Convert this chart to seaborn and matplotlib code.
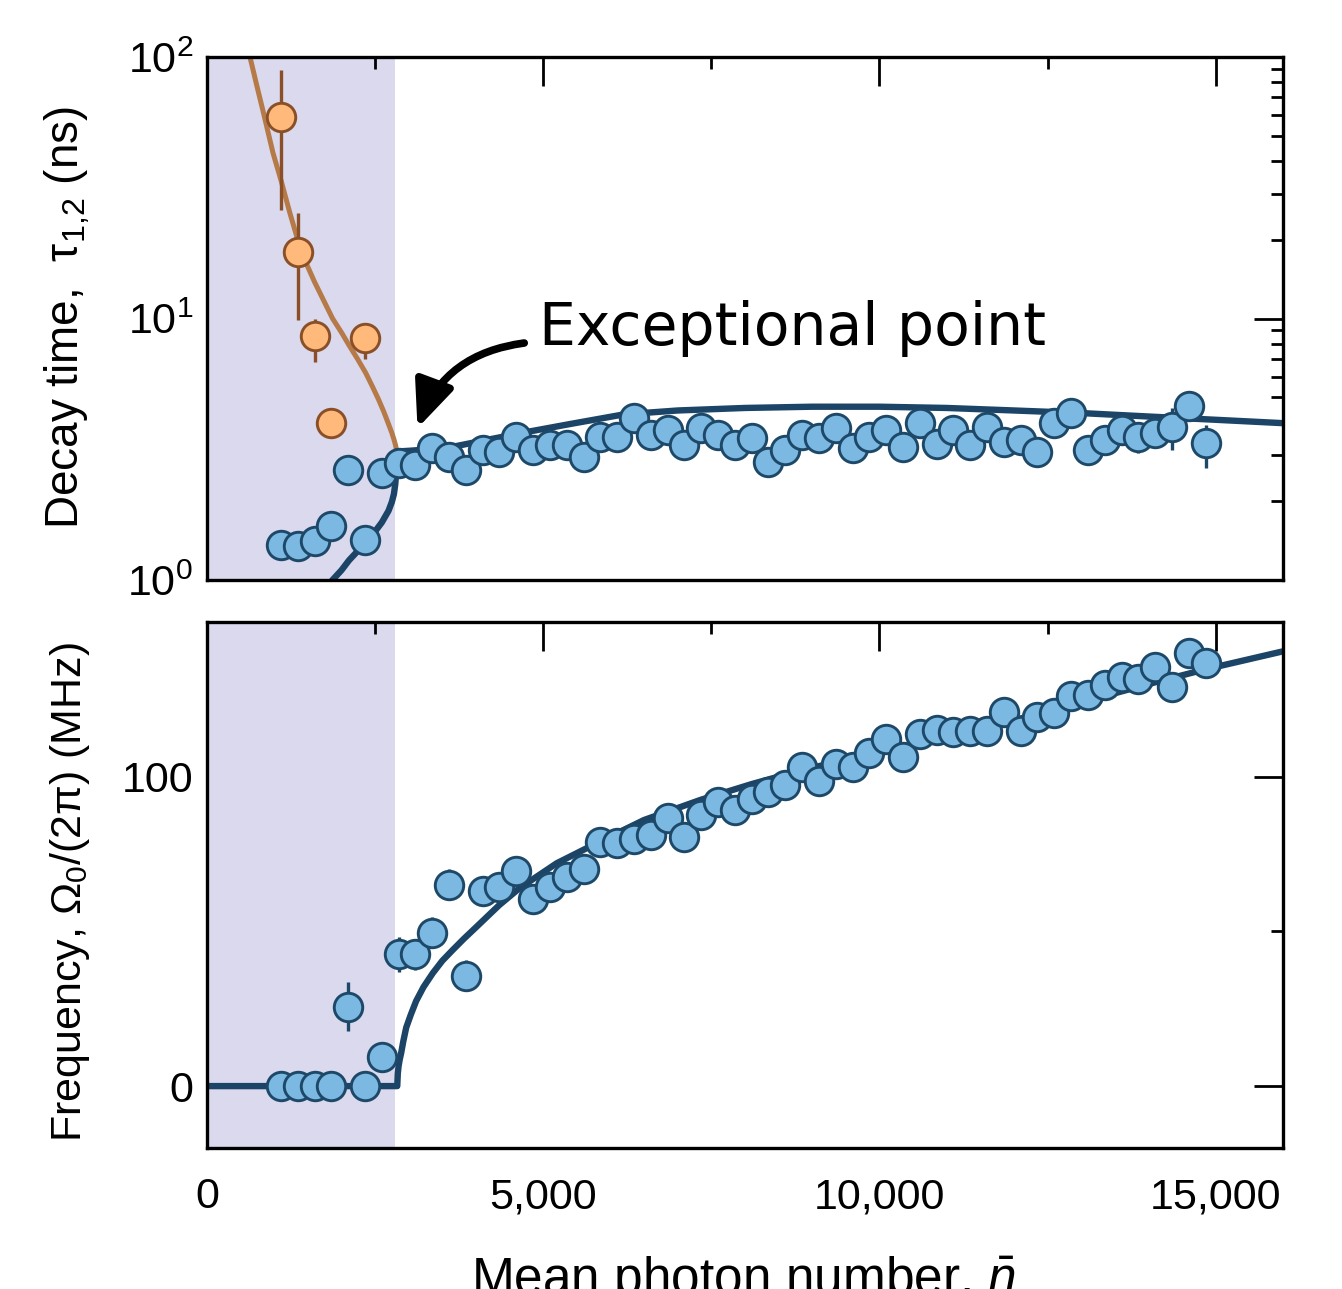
import matplotlib
matplotlib.use("Agg")
import matplotlib.pyplot as plt
import seaborn as sns
from matplotlib.ticker import FixedLocator, FixedFormatter, NullFormatter, LogLocator

# ---------------- data ----------------
photon_n = [1100, 1350, 1600, 1850, 2100, 2350, 2600, 2850, 3100, 3350, 3600, 3850, 4100, 4350,
            4600, 4850, 5100, 5350, 5600, 5850, 6100, 6350, 6600, 6850, 7100, 7350, 7600, 7850,
            8100, 8350, 8600, 8850, 9100, 9350, 9600, 9850, 10100, 10350, 10600, 10850, 11100,
            11350, 11600, 11850, 12100, 12350, 12600, 12850, 13100, 13350, 13600, 13850, 14100,
            14350, 14600, 14850]

tau_blue = [1.36, 1.35, 1.41, 1.61, 2.63, 1.42, 2.57, 2.80, 2.75, 3.20, 2.95, 2.63, 3.14, 3.09,
            3.52, 3.14, 3.28, 3.28, 2.95, 3.52, 3.52, 4.16, 3.58, 3.75, 3.28, 3.81, 3.58, 3.28,
            3.49, 2.83, 3.14, 3.58, 3.49, 3.81, 3.20, 3.52, 3.75, 3.23, 3.98, 3.31, 3.75, 3.28,
            3.85, 3.37, 3.43, 3.09, 3.98, 4.35, 3.14, 3.43, 3.75, 3.52, 3.65, 3.85, 4.63, 3.34]
tau_blue_err_lo = [0.1] * 51 + [0.45, 0.45, 0.71, 0.25, 0.66]
tau_blue_err_hi = [0.1] * 51 + [0.45, 0.45, 0.70, 0.25, 0.58]

orange_n = [1100, 1350, 1600, 1850, 2350]
tau_orange = [59.2, 17.9, 8.6, 3.98, 8.45]
tau_orange_err_lo = [33.3, 8.0, 1.8, 0.0, 1.45]
tau_orange_err_hi = [29.8, 7.5, 1.4, 0.0, 1.0]

freq = [0, 0, 0, 0, 25.7, 0, 9.4, 42.6, 42.6, 49.6, 65.0, 35.6, 63.1, 64.4,
        69.5, 60.6, 64.4, 67.6, 70.0, 79.0, 78.4, 80.0, 81.1, 86.8, 80.4, 87.6, 91.7, 89.2,
        92.8, 94.9, 97.3, 103.2, 98.7, 104.1, 103.2, 107.8, 112.1, 106.5, 113.8, 115.1, 114.3,
        114.6, 114.8, 121.0, 114.6, 119.4, 120.7, 126.1, 126.4, 129.7, 132.1, 131.5, 135.6,
        129.1, 139.9, 136.7]
freq_err = [0, 0, 0, 0, 8.0, 0, 3.0, 5.6, 5.0, 5.0, 5.0, 5.0, 4.5, 4.5,
            4.5, 4.5, 4.5, 4.5, 4.5, 4.5, 4.5, 4.5, 4.5, 4.5, 4.5, 4.5, 4.5, 4.5,
            4.5, 4.5, 4.5, 4.5, 4.5, 4.5, 4.5, 4.5, 4.5, 4.5, 4.5, 4.5, 4.5,
            4.5, 4.5, 4.5, 4.5, 4.5, 4.5, 4.5, 4.5, 4.5, 4.5, 4.5, 4.5,
            4.5, 4.5, 4.5]

# fit curves
fit_orange_n = [640, 740, 835, 982, 1105, 1230, 1350, 1470, 1600, 1730, 1868, 2000, 2113,
                2240, 2360, 2460, 2552, 2630, 2700, 2750, 2785, 2808, 2820]
fit_orange_tau = [100, 78, 62, 43, 33.5, 25.5, 20.0, 16.4, 13.8, 11.8, 10.0, 8.85, 7.9,
                  7.0, 6.2, 5.5, 4.9, 4.4, 3.95, 3.65, 3.42, 3.25, 3.1]

fit_blue_n = [1800, 1866, 2000, 2113, 2240, 2360, 2480, 2600, 2700, 2750, 2780, 2800, 2810,
              2816, 2820, 3000, 3300, 3700, 4200, 4800, 5400, 6200, 7000, 8000, 9000, 10000,
              11000, 12000, 13000, 14000, 15000, 16000]
fit_blue_tau = [0.95, 1.0, 1.09, 1.19, 1.29, 1.39, 1.51, 1.66, 1.84, 1.99, 2.13, 2.32, 2.50,
                2.72, 3.10, 3.12, 3.16, 3.25, 3.45, 3.70, 3.95, 4.30, 4.45, 4.55, 4.60, 4.60,
                4.55, 4.45, 4.35, 4.22, 4.10, 3.98]

fit_freq_n = [0, 2830, 2838, 2850, 2866, 2889, 2920, 2963, 3030, 3111, 3220, 3358, 3500, 3655,
              3820, 4000, 4347, 4650, 5200, 5840, 6500, 7340, 8100, 8830, 9600, 10330, 11100,
              11830, 12600, 13320, 14050, 14810, 16000]
fit_freq = [0, 0, 4.0, 6.5, 8.5, 10.8, 14.5, 18.9, 23.0, 27.5, 32.0, 36.5, 40.5, 44.0,
            47.6, 51.3, 58.5, 64.0, 72.0, 79.0, 86.0, 92.5, 97.6, 102.0, 106.0, 109.7, 113.4,
            117.3, 121.6, 125.9, 130.2, 134.5, 140.5]

shade_end = 2790
x_tick_vals = [0, 5000, 10000, 15000]
x_tick_labels = ["0", "5,000", "10,000", "15,000"]

# ---------------- style ----------------
sns.set_style("white")
plt.rcParams["font.family"] = ["Liberation Sans", "DejaVu Sans"]
plt.rcParams["mathtext.fontset"] = "custom"
plt.rcParams["mathtext.rm"] = "Liberation Sans"
plt.rcParams["mathtext.it"] = "Liberation Sans:italic"
plt.rcParams["mathtext.bf"] = "Liberation Sans:bold"
plt.rcParams["text.color"] = "black"
plt.rcParams["axes.labelcolor"] = "black"
plt.rcParams["xtick.color"] = "black"
plt.rcParams["ytick.color"] = "black"

SHADE = "#dad9ed"
BLUE_FACE = "#7bb9e3"
BLUE_EDGE = "#1d4868"
BLUE_LINE = "#1c4466"
OR_FACE = "#ffb97a"
OR_EDGE = "#8a4f26"
OR_LINE = "#b57a48"

fig = plt.figure(figsize=(13.42, 12.89), dpi=100)
ax1 = fig.add_axes([0.1542, 0.5500, 0.8018, 0.4058])
ax2 = fig.add_axes([0.1542, 0.1094, 0.8018, 0.4081])

MS = 420
EW = 2.1

# ---------------- top panel ----------------
ax1.set_yscale("log")
ax1.axvspan(0, shade_end, color=SHADE, lw=0, zorder=0)
sns.lineplot(x=fit_orange_n, y=fit_orange_tau, ax=ax1, color=OR_LINE, linewidth=3.6,
             sort=False, estimator=None, zorder=2)
sns.lineplot(x=fit_blue_n, y=fit_blue_tau, ax=ax1, color=BLUE_LINE, linewidth=4.6,
             sort=False, estimator=None, zorder=2)
ax1.errorbar(photon_n, tau_blue, yerr=[tau_blue_err_lo, tau_blue_err_hi], fmt="none",
             ecolor=BLUE_EDGE, elinewidth=2.4, capsize=0, zorder=3)
ax1.errorbar(orange_n, tau_orange, yerr=[tau_orange_err_lo, tau_orange_err_hi], fmt="none",
             ecolor=OR_EDGE, elinewidth=2.4, capsize=0, zorder=3)
sns.scatterplot(x=photon_n, y=tau_blue, ax=ax1, s=MS, color=BLUE_FACE,
                edgecolor=BLUE_EDGE, linewidth=EW, zorder=4)
sns.scatterplot(x=orange_n, y=tau_orange, ax=ax1, s=MS, color=OR_FACE,
                edgecolor=OR_EDGE, linewidth=EW, zorder=4)

ax1.set_xlim(0, 16000)
ax1.set_ylim(1, 100)
ax1.yaxis.set_major_locator(LogLocator(base=10, numticks=5))
ax1.yaxis.set_minor_locator(LogLocator(base=10, subs=[2, 3, 4, 5, 6, 7, 8, 9], numticks=20))
ax1.yaxis.set_minor_formatter(NullFormatter())
ax1.xaxis.set_major_locator(FixedLocator(x_tick_vals))
ax1.xaxis.set_minor_locator(FixedLocator([2500, 7500, 12500]))
ax1.set_xticklabels([])
ax1.set_xlabel("")
ax1.set_ylabel(r"Decay time,  τ$_{1{,}2}$ (ns)", fontsize=33)
ax1.yaxis.set_label_coords(-0.107, 0.502)

ax1.annotate("", xy=(3131, 3.81), xytext=(4718, 8.06),
             arrowprops=dict(arrowstyle="-|>,head_length=1.4,head_width=0.6",
                             connectionstyle="arc3,rad=0.3", color="black", lw=5.5,
                             shrinkA=0, shrinkB=0, mutation_scale=20), zorder=6)
ax1.text(4941, 7.92, "Exceptional point", fontsize=42, family="DejaVu Sans",
         va="baseline", ha="left", color="black", zorder=6)

# ---------------- bottom panel ----------------
ax2.axvspan(0, shade_end, color=SHADE, lw=0, zorder=0)
sns.lineplot(x=fit_freq_n, y=fit_freq, ax=ax2, color=BLUE_LINE, linewidth=4.6,
             sort=False, estimator=None, zorder=2)
ax2.errorbar(photon_n, freq, yerr=freq_err, fmt="none", ecolor=BLUE_EDGE,
             elinewidth=2.4, capsize=0, zorder=3)
sns.scatterplot(x=photon_n, y=freq, ax=ax2, s=MS, color=BLUE_FACE,
                edgecolor=BLUE_EDGE, linewidth=EW, zorder=4)

ax2.set_xlim(0, 16000)
ax2.set_ylim(-20, 150)
ax2.yaxis.set_major_locator(FixedLocator([0, 100]))
ax2.yaxis.set_minor_locator(FixedLocator([50]))
ax2.xaxis.set_major_locator(FixedLocator(x_tick_vals))
ax2.xaxis.set_major_formatter(FixedFormatter(x_tick_labels))
ax2.xaxis.set_minor_locator(FixedLocator([2500, 7500, 12500]))
ax2.set_xlabel("")
ax2.set_ylabel(r"Frequency, Ω$_0$/(2π) (MHz)", fontsize=31)
ax2.yaxis.set_label_coords(-0.107, 0.486)

for ax in (ax1, ax2):
    ax.tick_params(which="major", direction="in", length=21, width=2.0, top=True,
                   right=True, labelsize=31, pad=10, colors="black")
    ax.tick_params(which="minor", direction="in", length=8.6, width=2.0, top=True,
                   right=True, colors="black")
    for sp in ax.spines.values():
        sp.set_linewidth(2.4)
        sp.set_color("black")
        sp.set_visible(True)
    ax.set_facecolor("white")
    leg = ax.get_legend()
    if leg is not None:
        leg.remove()
ax2.tick_params(axis="x", which="major", pad=21)

fig.text(743.5 / 1342, -0.0047, r"Mean photon number, $\bar{n}$", fontsize=37,
         ha="center", va="baseline", color="black")

fig.savefig("out.png", dpi=100)
